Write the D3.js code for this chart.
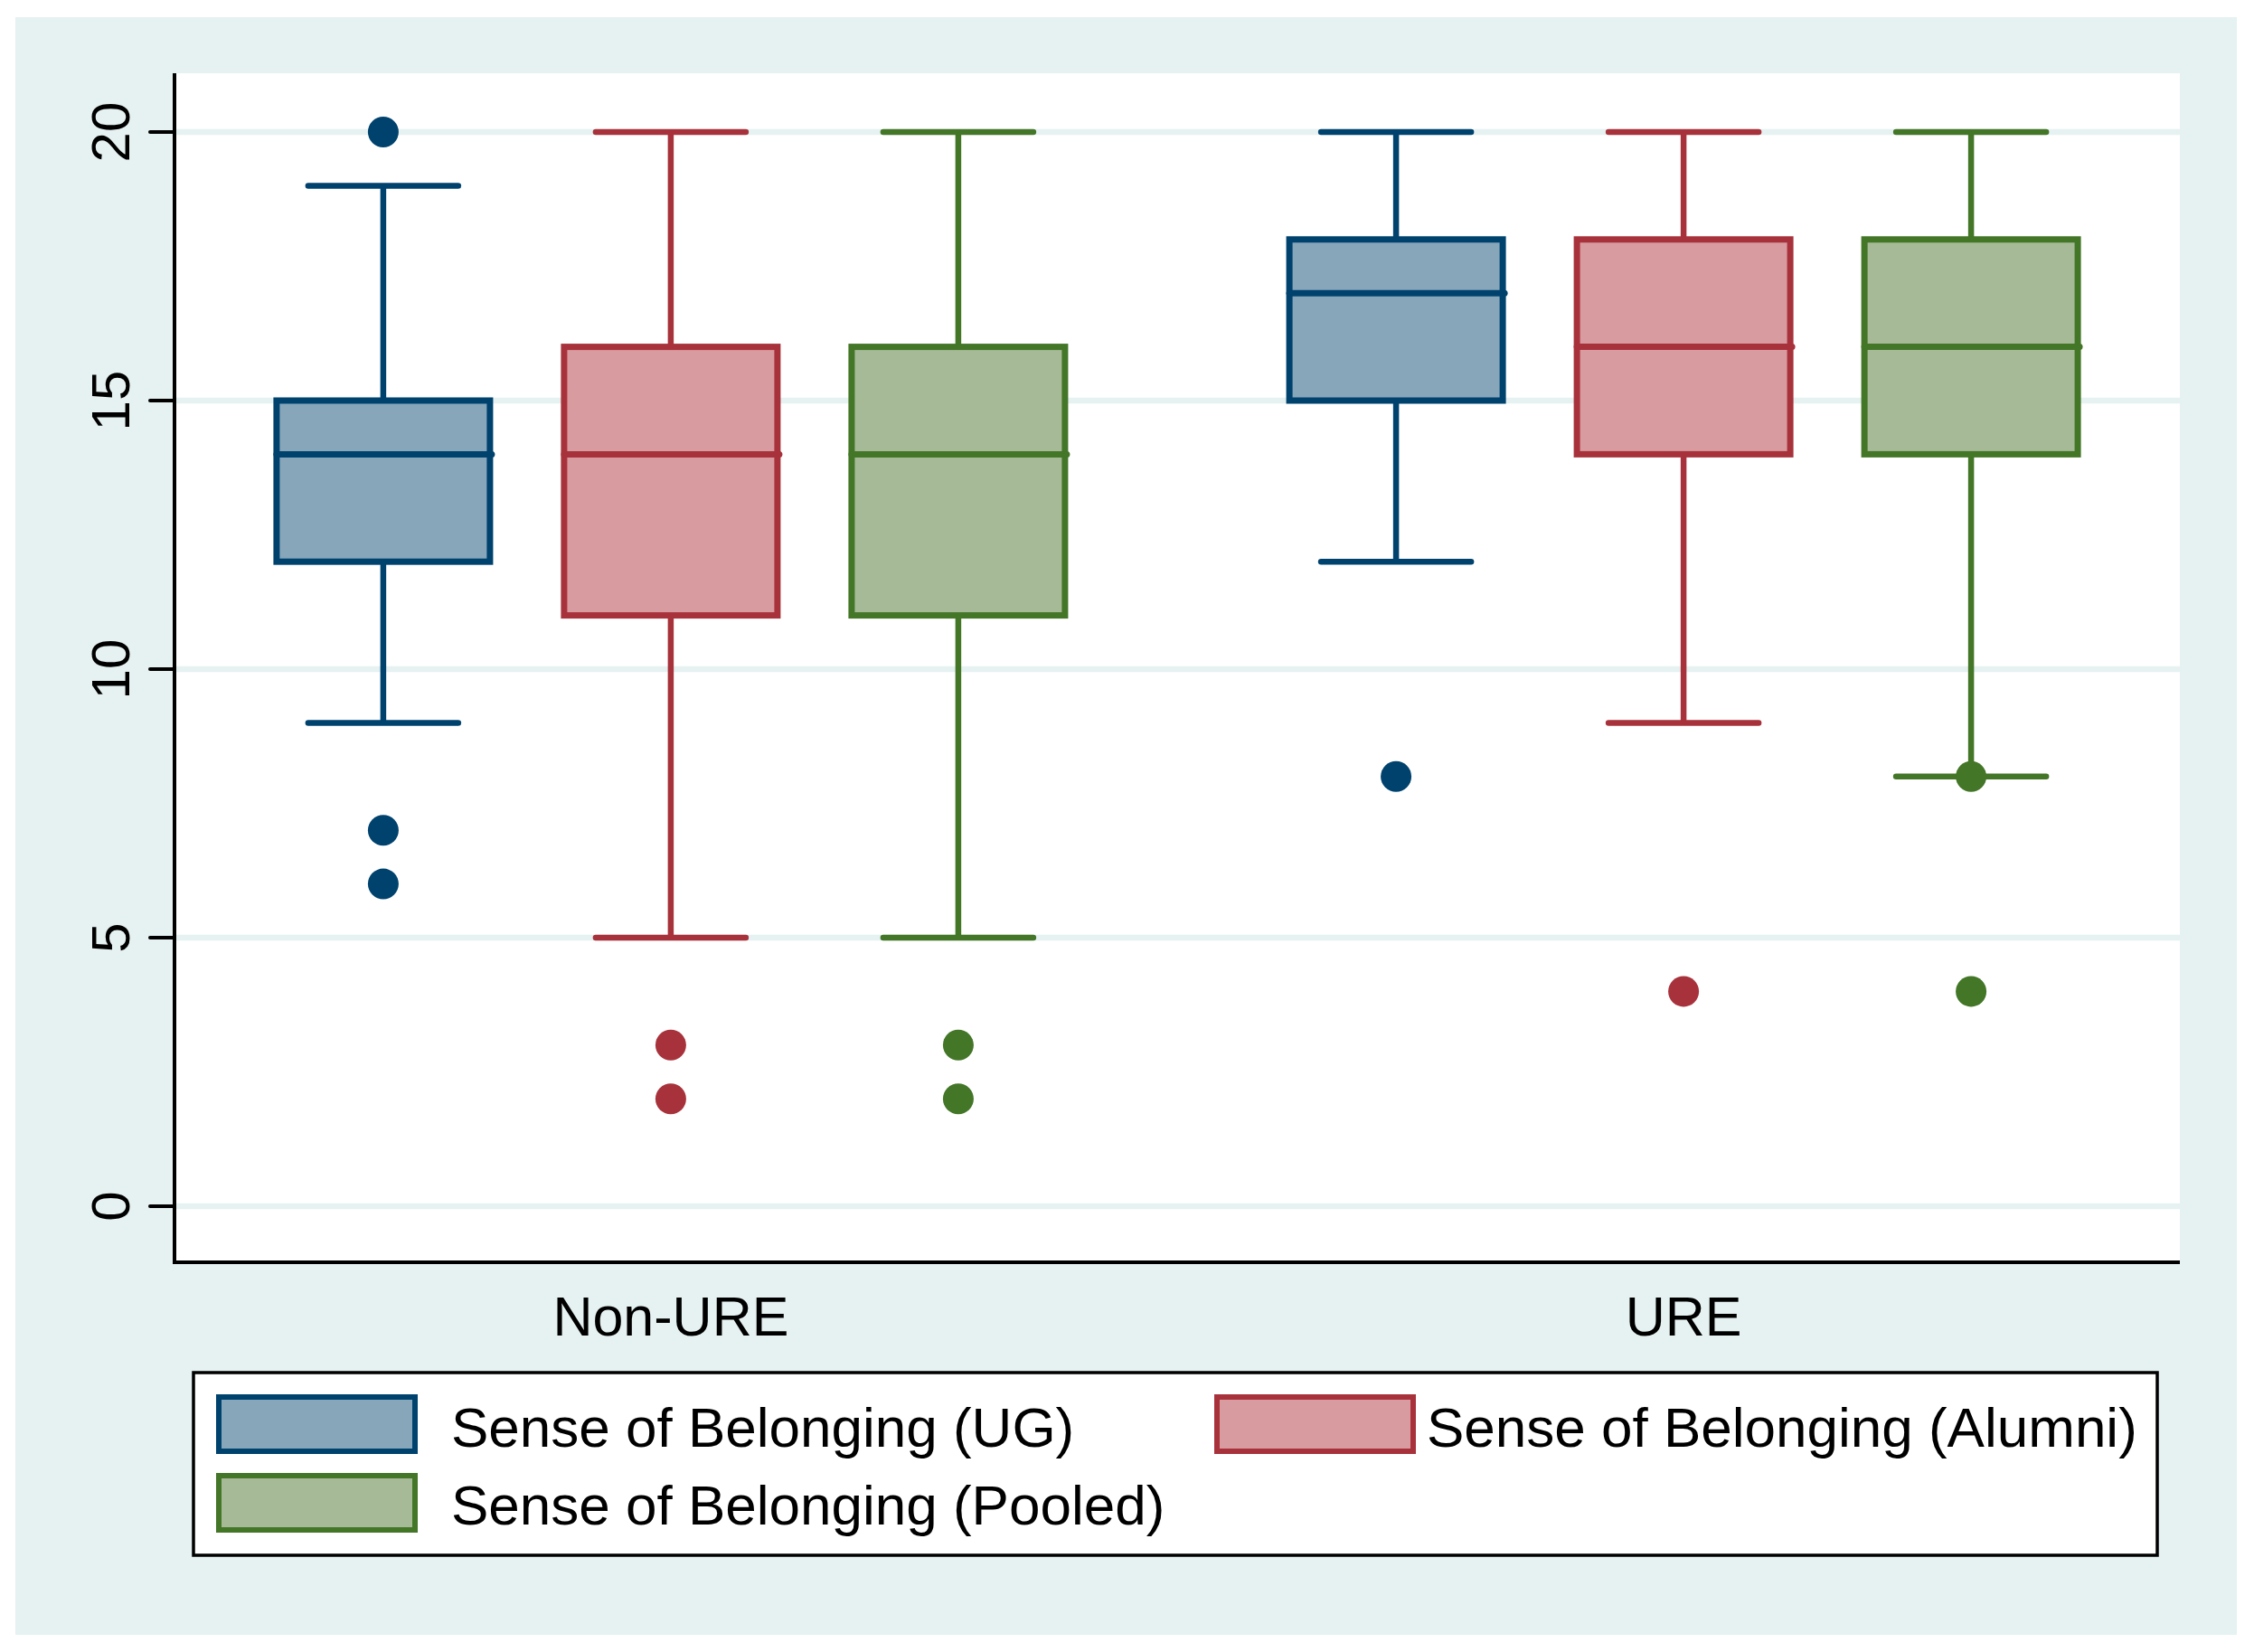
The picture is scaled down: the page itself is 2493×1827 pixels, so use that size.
<!DOCTYPE html>
<html>
<head>
<meta charset="utf-8">
<script src="https://cdn.jsdelivr.net/npm/d3@7"></script>
<style>
  html, body { margin: 0; padding: 0; background: #ffffff; }
  svg { display: block; }
  text { font-family: "Liberation Sans", Arial, Helvetica, sans-serif; fill: #000; }
</style>
</head>
<body>
<svg id="chart" width="2493" height="1827"></svg>
<script>
// ---- Data ----
const groups = ["Non-URE", "URE"];
const series = ["Sense of Belonging (UG)", "Sense of Belonging (Alumni)", "Sense of Belonging (Pooled)"];
// per group, per series: [lower whisker, q1, median, q3, upper whisker]
const statsNonURE = [
  [9, 12, 14, 15, 19],
  [5, 11, 14, 16, 20],
  [5, 11, 14, 16, 20]
];
const statsURE = [
  [12, 15, 17, 18, 20],
  [9, 14, 16, 18, 20],
  [8, 14, 16, 18, 20]
];
const outliersNonURE = [[20, 7, 6], [3, 2], [3, 2]];
const outliersURE = [[8], [4], [8, 4]];
const yTicks = [0, 5, 10, 15, 20];

const strokeColors = ["#00426e", "#a8323b", "#437627"];
const fillColors = ["#87a6ba", "#d89ba0", "#a6ba98"];

// ---- Layout ----
const W = 2493, H = 1827;
const bg = { x: 17, y: 19, w: 2457, h: 1789 };
const plot = { left: 193, right: 2411, top: 81, bottom: 1396 };

const svg = d3.select("#chart");

svg.append("rect").attr("x", bg.x).attr("y", bg.y).attr("width", bg.w).attr("height", bg.h)
  .attr("fill", "#e6f1f1");

svg.append("rect").attr("x", plot.left).attr("y", plot.top)
  .attr("width", plot.right - plot.left).attr("height", plot.bottom - plot.top)
  .attr("fill", "#ffffff");

const y = d3.scaleLinear().domain([0, 20]).range([1334, 146]);
const xg = d3.scalePoint().domain(groups).range([plot.left, plot.right]).padding(0.49);
const xs = d3.scalePoint().domain(series).range([-318, 318]);
const boxW = 236, capW = 166;

// grid lines
svg.append("g").selectAll("line").data(yTicks).join("line")
  .attr("x1", plot.left).attr("x2", plot.right)
  .attr("y1", d => y(d)).attr("y2", d => y(d))
  .attr("stroke", "#e6f1f1").attr("stroke-width", 6.5);

// build data records
const records = [];
groups.forEach((g, gi) => {
  const st = gi === 0 ? statsNonURE : statsURE;
  const ol = gi === 0 ? outliersNonURE : outliersURE;
  series.forEach((s, si) => {
    const [lo, q1, med, q3, hi] = st[si];
    records.push({ g, s, si, lo, q1, med, q3, hi, out: ol[si], cx: xg(g) + xs(s) });
  });
});

const boxes = svg.append("g");
records.forEach(r => {
  const c = strokeColors[r.si];
  const gEl = boxes.append("g");
  // whiskers
  gEl.append("line").attr("x1", r.cx).attr("x2", r.cx).attr("y1", y(r.q3)).attr("y2", y(r.hi))
    .attr("stroke", c).attr("stroke-width", 6.5);
  gEl.append("line").attr("x1", r.cx).attr("x2", r.cx).attr("y1", y(r.q1)).attr("y2", y(r.lo))
    .attr("stroke", c).attr("stroke-width", 6.5);
  // caps
  [r.hi, r.lo].forEach(v => {
    gEl.append("line").attr("x1", r.cx - capW / 2).attr("x2", r.cx + capW / 2)
      .attr("y1", y(v)).attr("y2", y(v))
      .attr("stroke", c).attr("stroke-width", 6.5).attr("stroke-linecap", "round");
  });
  // box
  gEl.append("rect").attr("x", r.cx - boxW / 2).attr("y", y(r.q3))
    .attr("width", boxW).attr("height", y(r.q1) - y(r.q3))
    .attr("fill", fillColors[r.si]).attr("stroke", c).attr("stroke-width", 7);
  // median
  gEl.append("line").attr("x1", r.cx - boxW / 2).attr("x2", r.cx + boxW / 2 + 2)
    .attr("y1", y(r.med)).attr("y2", y(r.med))
    .attr("stroke", c).attr("stroke-width", 7).attr("stroke-linecap", "round");
  // outliers
  gEl.selectAll("circle").data(r.out).join("circle")
    .attr("cx", r.cx).attr("cy", d => y(d)).attr("r", 17).attr("fill", c);
});

// axes lines
svg.append("line").attr("x1", plot.left).attr("x2", plot.left)
  .attr("y1", plot.top).attr("y2", plot.bottom + 2)
  .attr("stroke", "#000").attr("stroke-width", 4);
svg.append("line").attr("x1", plot.left - 2).attr("x2", plot.right)
  .attr("y1", plot.bottom).attr("y2", plot.bottom)
  .attr("stroke", "#000").attr("stroke-width", 4);

// y ticks + labels
const yt = svg.append("g");
yt.selectAll("line").data(yTicks).join("line")
  .attr("x1", plot.left - 27).attr("x2", plot.left)
  .attr("y1", d => y(d)).attr("y2", d => y(d))
  .attr("stroke", "#000").attr("stroke-width", 4).attr("stroke-linecap", "round");
yt.selectAll("text").data(yTicks).join("text")
  .attr("transform", d => `translate(143,${y(d)}) rotate(-90)`)
  .attr("text-anchor", "middle")
  .attr("font-size", 60)
  .text(d => d);

// x labels
svg.append("g").selectAll("text").data(groups).join("text")
  .attr("x", d => xg(d)).attr("y", 1477)
  .attr("text-anchor", "middle").attr("font-size", 61)
  .text(d => d);

// legend
const lg = svg.append("g");
lg.append("rect").attr("x", 214).attr("y", 1518).attr("width", 2386 - 214).attr("height", 1720 - 1518)
  .attr("fill", "#fff").attr("stroke", "#000").attr("stroke-width", 3.5);
const legPos = [
  { sx: 242, sy: 1545, tx: 499, ty: 1600 },
  { sx: 1346, sy: 1545, tx: 1578, ty: 1600 },
  { sx: 242, sy: 1632, tx: 499, ty: 1686 }
];
series.forEach((s, i) => {
  const p = legPos[i];
  lg.append("rect").attr("x", p.sx).attr("y", p.sy).attr("width", 217).attr("height", 60)
    .attr("fill", fillColors[i]).attr("stroke", strokeColors[i]).attr("stroke-width", 6);
  lg.append("text").attr("x", p.tx).attr("y", p.ty).attr("font-size", 62).text(s);
});
</script>
</body>
</html>
